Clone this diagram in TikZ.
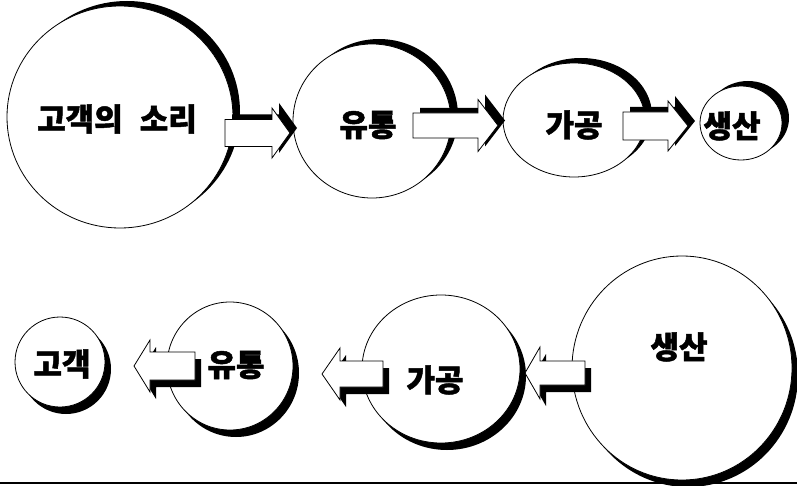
\documentclass[tikz,border=0pt]{standalone}
\usepackage{fontspec}
\newfontfamily\kfont{Noto Sans CJK KR}[BoldFeatures={FakeBold=1.5}]
\usetikzlibrary{shapes.geometric,shadows,calc}

\tikzstyle{bubble} = [shape=ellipse,draw,fill=white,inner sep=0pt,line width=0.8pt]
\tikzstyle{word} = [font=\kfont\bfseries\fontsize{31}{33}\selectfont,inner sep=0pt]
\tikzstyle{blockarrow} = [draw,fill=white,line width=0.8pt,line join=miter]
\tikzstyle{upshadow} = [general shadow={fill=black,shadow xshift=7pt,shadow yshift=5pt}]
\tikzstyle{downshadow} = [general shadow={fill=black,shadow xshift=6pt,shadow yshift=-7pt}]

% style, tail, neck, tip, body half width, head half width
\newcommand{\blockarr}[6]{%
  \draw[blockarrow,#1] let \p1=(#2), \p2=(#3), \p3=(#4) in
    (\x1,\y1+#5pt) -- (\x2,\y1+#5pt) -- (\x2,\y1+#6pt) -- (\x3,\y1)
    -- (\x2,\y1-#6pt) -- (\x2,\y1-#5pt) -- (\x1,\y1-#5pt) -- cycle;}

\begin{document}
\begin{tikzpicture}[x=1pt,y=-1pt]
      \useasboundingbox (0,0) rectangle (797,486);

      %% circles
      \foreach \nodename/\x/\y/\rx/\ry/\shade in {
        voc/120/117/113/111/upshadow, dist/372/121/79/77/upshadow,
        proc/574/120/71/57/upshadow, prod/741/123/41/37/upshadow,
        cust/60/362/45/45/downshadow, distb/230/366/63/64/downshadow,
        procb/441/369/79/74/downshadow, prodb/682/368/110/112/downshadow}
      {
        \node (\nodename) at (\x,\y) [bubble,\shade,minimum width=2*\rx,minimum height=2*\ry] {};
      }

      %% arrows
      \foreach \arrname/\tx/\nx/\hx/\ya/\bw/\hw/\shade in {
        voc2dist/225/272/290/133/13.5/25/upshadow,
        dist2proc/413/478/498/125.5/12.5/26/upshadow,
        proc2prod/623/668/688/126/14/25/upshadow,
        distb2cust/195/150/134/366/14/26/downshadow,
        procb2distb/383/340/322/374/13/26/downshadow,
        prodb2procb/585/540/525/373/12/26/downshadow}
      {
        \coordinate (\arrname-tail) at (\tx,\ya);
        \coordinate (\arrname-neck) at (\nx,\ya);
        \coordinate (\arrname-tip) at (\hx,\ya);
        \blockarr{\shade}{\arrname-tail}{\arrname-neck}{\arrname-tip}{\bw}{\hw}
      }

      %% labels
      \foreach \labelname/\x/\y/\txt in {
        voc-label/117/119/{고객의\hspace{0.55em}소리}, dist-label/368/125/유통,
        proc-label/574/125/가공, prod-label/732/126/생산,
        cust-label/62/364/고객, distb-label/236/365/유통,
        procb-label/435/380/가공, prodb-label/679/347/생산}
      {
        \node (\labelname) [word] at (\x,\y) {\txt};
      }

      \draw[line width=2.2pt] (0,483) coordinate (rule-l) -- (797,483) coordinate (rule-r);
\end{tikzpicture}
\end{document}
